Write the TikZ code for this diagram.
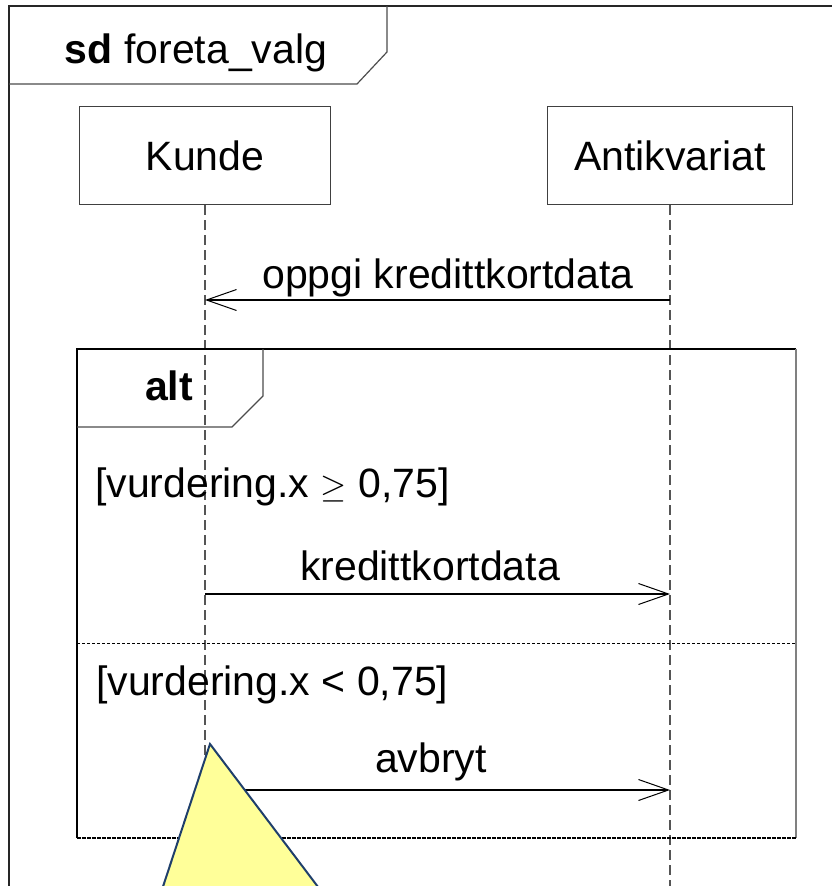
\documentclass[tikz,border=0pt]{standalone}
\usepackage{fontspec}
\setmainfont{Liberation Sans}
\usetikzlibrary{arrows.meta}
\definecolor{notefill}{HTML}{FFFF99}
\definecolor{notedraw}{HTML}{1F3F6B}
\definecolor{lifegray}{HTML}{555555}
\tikzset{
  x=1pt, y=-1pt,
  every node/.style={font=\fontsize{41}{49}\selectfont, inner sep=0pt},
  frameline/.style={draw=black!85, line width=1.3pt},
  objbox/.style={draw=black!75, line width=1.2pt, minimum width=251pt, minimum height=98pt, anchor=north},
  lifeline/.style={draw=lifegray, line width=1.1pt, dash pattern=on 10pt off 5pt},
  msg/.style={draw=black, line width=1.1pt, -{Straight Barb[length=30pt,width=21pt,line width=1pt]}},
  sepline/.style={draw=black, line width=1pt, dash pattern=on 3pt off 2pt},
}
\begin{document}
\begin{tikzpicture}
\useasboundingbox (0,0) rectangle (832,886);

% outer sequence diagram frame (continues past the right and bottom edges)
\draw[frameline] (832,6) -- (9,6) -- (9,886);
\draw[draw=black!70, line width=1.2pt] (9,84) -- (357,84) -- (387,52) -- (387,6);
\node[anchor=base] (title) at (196,63) {\textbf{sd} foreta\_valg};

% lifeline heads
\node[objbox] (kunde) at (205,106) {};
\node[anchor=base] (kundetxt) at (205,170) {Kunde};
\node[objbox, minimum width=245pt] (antik) at (670,106) {};
\node[anchor=base] (antiktxt) at (670,170) {Antikvariat};

\coordinate (kend) at (205,886);
\coordinate (aend) at (670,886);
\draw[lifeline] (kunde.south) -- (kend);
\draw[lifeline] (antik.south) -- (aend);

% first message
\coordinate (m1s) at (670,300);
\coordinate (m1e) at (205,300);
\draw[msg] (m1s) -- (m1e);
\node[anchor=base] (m1lbl) at (448,288) {oppgi kredittkortdata};

% alt combined fragment
\draw[draw=black, line width=1.3pt] (77,838) -- (77,349) -- (796,349);
\draw[draw=gray, line width=2.2pt] (796,349) -- (796,838);
\draw[draw=black, line width=1.3pt, dash pattern=on 4pt off 1pt] (77,838) -- (796,838);
\draw[draw=black!70, line width=1.2pt] (77,427) -- (232,427) -- (263,396) -- (263,349);
\node[anchor=base] (alt) at (169,400) {\textbf{alt}};

% first operand
\node[anchor=base west] (guard1) at (95,497) {[vurdering.x \scalebox{1.35}{$\geq$} 0,75]};
\coordinate (m2s) at (205,594);
\coordinate (m2e) at (670,594);
\draw[msg] (m2s) -- (m2e);
\node[anchor=base] (m2lbl) at (430,580) {kredittkortdata};

% operand separator
\draw[sepline] (77,643) -- (796,643);

% second operand
\node[anchor=base west] (guard2) at (96,695) {[vurdering.x < 0,75]};
\coordinate (m3s) at (205,790);
\coordinate (m3e) at (670,790);
\draw[msg] (m3s) -- (m3e);
\node[anchor=base] (m3lbl) at (431,772) {avbryt};

% yellow triangle over the bottom left
\begin{scope}
\clip (0,0) rectangle (832,886);
\filldraw[fill=notefill, draw=notedraw, line width=2pt, line join=miter]
  (210,744) -- (343,920) -- (152,920) -- cycle;
\end{scope}
\end{tikzpicture}
\end{document}
